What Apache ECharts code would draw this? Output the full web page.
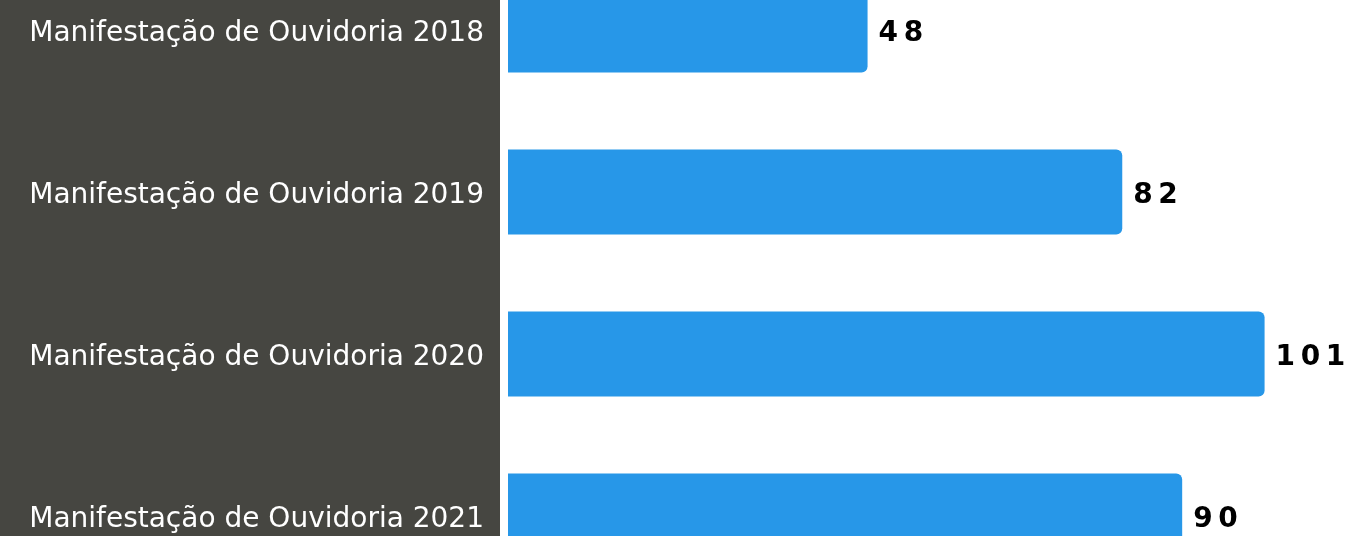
<!DOCTYPE html>
<html>
<head>
<meta charset="utf-8">
<style>
  html, body { margin: 0; padding: 0; background: #ffffff; overflow: hidden; }
  #wrap { position: relative; width: 1347px; height: 536px; overflow: hidden; }
  /* the plot runs past the top and bottom edges so the outer bars are cut off */
  #chart { position: absolute; left: 0; top: -51px; width: 1347px; height: 648px; }
</style>
<script src="https://cdn.jsdelivr.net/npm/echarts@6/dist/echarts.min.js"></script>
</head>
<body>
<div id="wrap"><div id="chart"></div></div>
<script>
// Manifestações de Ouvidoria por ano
const categories = [
  'Manifestação de Ouvidoria 2018',
  'Manifestação de Ouvidoria 2019',
  'Manifestação de Ouvidoria 2020',
  'Manifestação de Ouvidoria 2021'
];
const values = [48, 82, 101, 90];

const chart = echarts.init(document.getElementById('chart'), null, { renderer: 'canvas' });

chart.setOption({
  animation: false,
  backgroundColor: '#ffffff',
  graphic: [{
    type: 'rect',
    z: -10,
    shape: { x: 0, y: 0, width: 500, height: 648 },
    style: { fill: '#464641' }
  }],
  grid: { left: 508, right: 15, top: 0, bottom: 0, containLabel: false },
  xAxis: {
    type: 'value',
    min: 0,
    max: 110,
    show: false
  },
  yAxis: {
    type: 'category',
    inverse: true,
    data: categories,
    axisLine: { show: false },
    axisTick: { show: false },
    axisLabel: {
      margin: 24,
      color: '#ffffff',
      fontFamily: 'DejaVu Sans',
      fontSize: 28,
      align: 'right',
      // small line box anchored at the top nudges the text a few px below the bar centre
      verticalAlign: 'top',
      lineHeight: 8
    }
  },
  series: [{
    type: 'bar',
    data: values,
    barCategoryGap: '47.5%',
    itemStyle: { color: '#2797e8', borderRadius: [0, 6, 6, 0] },
    label: {
      show: true,
      position: 'right',
      distance: 11,
      offset: [0, 4],
      color: '#000000',
      fontFamily: 'DejaVu Sans',
      fontWeight: 'bold',
      fontSize: 28,
      formatter: p => String(p.value).split('').join('\u2009')
    }
  }]
});
</script>
</body>
</html>
